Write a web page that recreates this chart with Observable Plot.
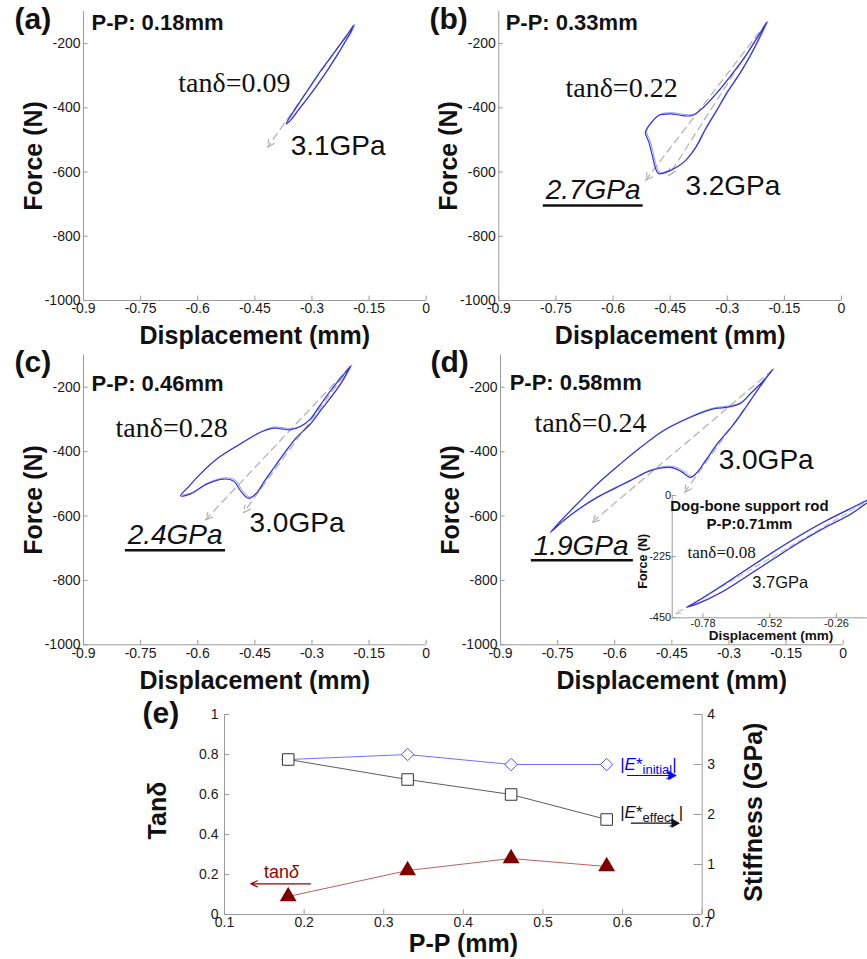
<!DOCTYPE html>
<html><head><meta charset="utf-8">
<script src="https://cdn.jsdelivr.net/npm/d3@7"></script>
<script src="https://cdn.jsdelivr.net/npm/@observablehq/plot@0.6"></script>
<style>
body{margin:0;background:#fff;}
#fig{position:relative;width:867px;height:959px;overflow:hidden;background:#fff;}
#fig svg{position:absolute;max-width:none;}
</style></head><body><div id="fig"></div>
<script>
// ---------------- data ----------------
const dispTicks = [-0.9, -0.75, -0.6, -0.45, -0.3, -0.15, 0];
const forceTicks = [-1000, -800, -600, -400, -200];
const dispDomain = [-0.9, 0];
const forceDomain = [-1000, -100];

// hysteresis loops [displacement mm, force N]
const loopA = [[-0.191,-144],[-0.203,-165],[-0.222,-196],[-0.248,-238],[-0.278,-286],[-0.304,-332],[-0.330,-378],[-0.352,-418],[-0.368,-450],
  [-0.357,-440],[-0.338,-410],[-0.313,-372],[-0.287,-330],[-0.258,-280],[-0.232,-232],[-0.210,-188],[-0.197,-162],[-0.191,-144]];
const loopB = [[-0.197,-135],[-0.226,-190],[-0.257,-247],[-0.287,-294],[-0.322,-346],[-0.362,-398],[-0.392,-424],[-0.418,-424],[-0.449,-419],[-0.480,-424],[-0.502,-450],[-0.515,-476],
  [-0.506,-507],[-0.497,-548],[-0.488,-590],[-0.480,-605],
  [-0.449,-595],[-0.414,-569],[-0.383,-523],[-0.357,-465],[-0.331,-414],[-0.300,-351],[-0.265,-289],[-0.235,-227],[-0.213,-175],[-0.197,-135]];
const loopC = [[-0.199,-135],[-0.225,-172],[-0.251,-210],[-0.280,-258],[-0.304,-298],[-0.330,-322],[-0.356,-332],[-0.380,-329],[-0.400,-327],[-0.425,-335],[-0.444,-345],[-0.488,-376],[-0.549,-422],[-0.593,-469],[-0.625,-510],[-0.645,-537],
  [-0.619,-531],[-0.575,-500],[-0.532,-485],[-0.505,-492],[-0.488,-521],[-0.466,-545],[-0.445,-528],[-0.427,-495],[-0.400,-450],[-0.374,-407],[-0.340,-355],[-0.304,-314],[-0.275,-268],[-0.243,-220],[-0.220,-180],[-0.199,-135]];
const loopD = [[-0.186,-146],[-0.209,-179],[-0.244,-220],[-0.270,-250],[-0.296,-260],[-0.320,-264],[-0.340,-267],[-0.370,-278],[-0.401,-293],[-0.471,-334],[-0.530,-385],[-0.585,-438],[-0.650,-505],[-0.716,-583],[-0.750,-625],[-0.769,-651],
  [-0.734,-614],[-0.690,-575],[-0.646,-542],[-0.600,-514],[-0.559,-490],[-0.506,-459],[-0.454,-449],[-0.425,-462],[-0.401,-480],[-0.385,-466],[-0.360,-425],[-0.331,-376],[-0.287,-314],[-0.256,-262],[-0.226,-210],[-0.205,-175],[-0.186,-146]];

// inset (dog-bone support rod)
const insetXTicks = [-0.78, -0.52, -0.26];
const insetYTicks = [-450, -225, 0];
const insetXDomain = [-0.9, -0.139];
const insetYDomain = [-450, 0];
const loopInset = [[-0.842,-411],[-0.80,-388],[-0.70,-328],[-0.60,-266],[-0.50,-204],[-0.40,-146],[-0.30,-93],[-0.20,-46],[-0.12,-10],
  [-0.20,-66],[-0.30,-116],[-0.40,-170],[-0.50,-230],[-0.60,-292],[-0.70,-352],[-0.80,-398],[-0.842,-411]];

// stiffness arrow ends (dashed secant lines start at loop tip)
const dashEndsA = [[-0.417,-523]];
const dashEndsB = [[-0.515,-626],[-0.454,-611]];
const dashEndsC = [[-0.58,-612],[-0.48,-590]];
const dashEndsD = [[-0.66,-620],[-0.417,-527]];
const dashEndsInset = [[-0.887,-435]];

// panel (e)
const pp = [0.18, 0.33, 0.46, 0.58];
const eInitial = [3.1, 3.2, 3.0, 3.0];
const eEffect = [3.1, 2.7, 2.4, 1.9];
const tanDelta = [0.09, 0.22, 0.28, 0.24];
const eXTicks = [0.1, 0.2, 0.3, 0.4, 0.5, 0.6, 0.7];
const eYTicks = [0, 0.2, 0.4, 0.6, 0.8, 1];
const eY2Ticks = [0, 1, 2, 3, 4];

// annotations (data units)
const notesA = {label:["(a)",-1.081,-156], pp:["P-P: 0.18mm",-0.879,-159], tan:["tanδ=0.09",-0.651,-351], gpa:[["3.1GPa",-0.356,-548]], gpaU:[]};
const notesB = {label:["(b)",-1.082,-156], pp:["P-P: 0.33mm",-0.882,-159], tan:["tanδ=0.22",-0.725,-367], gpa:[["3.2GPa",-0.410,-670]], gpaU:[["2.7GPa",-0.777,-685,-0.783,-0.521,-704]]};
const notesC = {label:["(c)",-1.081,-154], pp:["P-P: 0.46mm",-0.879,-213], tan:["tanδ=0.28",-0.816,-353], gpa:[["3.0GPa",-0.464,-651]], gpaU:[["2.4GPa",-0.784,-687,-0.790,-0.527,-706]]};
const notesD = {label:["(d)",-1.084,-154], pp:["P-P: 0.58mm",-0.876,-208], tan:["tanδ=0.24",-0.811,-340], gpa:[["3.0GPa",-0.327,-454]], gpaU:[["1.9GPa",-0.813,-720,-0.819,-0.551,-737]]};

// ---------------- rendering ----------------
const SANS = "'Liberation Sans', Arial, Helvetica, sans-serif";
const SERIF = "'Liberation Serif', 'Times New Roman', serif";
const AX = "#9a9a9a";
const BLUE = "#3434dc";
const fig = document.getElementById("fig");

function place(svg, left, top) {
  svg.style.left = left + "px";
  svg.style.top = top + "px";
  fig.appendChild(svg);
  return svg;
}
function txt(a) { return {t: a[0], x: a[1], y: a[2]}; }

function panel(loop, dashEnds, notes, box) {
  const x0 = dispDomain[0], y0 = forceDomain[0];
  const tip = loop[0];
  const dashes = dashEnds.map(e => ({x1: tip[0], y1: tip[1], x2: e[0], y2: e[1]}));
  const svg = Plot.plot({
    width: box.w, height: box.h,
    marginLeft: box.ml, marginRight: box.mr, marginTop: box.mt, marginBottom: box.mb,
    x: {domain: dispDomain, label: null},
    y: {domain: forceDomain, label: null},
    style: {background: "transparent", overflow: "visible", fontFamily: SANS, fontSize: "14px", color: "#1a1a1a"},
    marks: [
      Plot.ruleX([x0], {stroke: AX}),
      Plot.ruleY([y0], {stroke: AX}),
      Plot.ruleX(dispTicks, {x: d => d, y1: y0, y2: y0 + 14, stroke: AX}),
      Plot.ruleY(forceTicks, {y: d => d, x1: x0, x2: x0 + 0.012, stroke: AX}),
      Plot.axisX({ticks: dispTicks, tickSize: 0, tickPadding: 3, tickFormat: d => String(d), label: null}),
      Plot.axisY({ticks: forceTicks, tickSize: 0, tickPadding: 3, tickFormat: d => String(d), label: null}),
      Plot.arrow(dashes, {x1: "x1", y1: "y1", x2: "x2", y2: "y2", stroke: "#b4b4b4", strokeWidth: 1.3, strokeDasharray: "7,5", headLength: 9, headAngle: 50}),
      Plot.line(loop, {x: d => d[0], y: d => d[1], stroke: "#8c8cf2", strokeWidth: 0.9, curve: "catmull-rom", dx: 1.3, dy: -1.2}),
      Plot.line(loop, {x: d => d[0], y: d => d[1], stroke: BLUE, strokeWidth: 1.2, curve: "catmull-rom"}),
      Plot.text([txt(notes.label)], {x: "x", y: "y", text: "t", textAnchor: "start", lineAnchor: "bottom", fontSize: 30, fontWeight: "bold", fill: "#111"}),
      Plot.text([txt(notes.pp)], {x: "x", y: "y", text: "t", textAnchor: "start", lineAnchor: "bottom", fontSize: 22, fontWeight: "bold", fill: "#111"}),
      Plot.text([txt(notes.tan)], {x: "x", y: "y", text: "t", textAnchor: "start", lineAnchor: "bottom", fontSize: 28, fontFamily: SERIF, fill: "#111"}),
      Plot.text(notes.gpa.map(txt), {x: "x", y: "y", text: "t", textAnchor: "start", lineAnchor: "bottom", fontSize: 28, fill: "#111"}),
      Plot.text(notes.gpaU.map(txt), {x: "x", y: "y", text: "t", textAnchor: "start", lineAnchor: "bottom", fontSize: 28, fontStyle: "italic", fill: "#111"}),
      Plot.ruleY(notes.gpaU, {y: d => d[5], x1: d => d[3], x2: d => d[4], stroke: "#111", strokeWidth: 2.5}),
      Plot.text(["Force (N)"], {x: -1.03, y: -550, text: d => d, rotate: -90, textAnchor: "middle", lineAnchor: "middle", fontSize: 25, fontWeight: "bold", fill: "#111"}),
      Plot.text(["Displacement (mm)"], {x: -0.45, y: -1136, text: d => d, textAnchor: "middle", lineAnchor: "bottom", fontSize: 25, fontWeight: "bold", fill: "#111"})
    ]
  });
  return place(svg, box.left, box.top);
}

panel(loopA, dashEndsA, notesA, {left: 0, top: 0, w: 430, h: 360, ml: 83, mr: 4.3, mt: 11, mb: 60});
panel(loopB, dashEndsB, notesB, {left: 430, top: 0, w: 437, h: 360, ml: 68.3, mr: 26, mt: 11, mb: 60});
panel(loopC, dashEndsC, notesC, {left: 0, top: 330, w: 430, h: 375, ml: 83, mr: 4.3, mt: 24.6, mb: 60.7});
panel(loopD, dashEndsD, notesD, {left: 430, top: 330, w: 437, h: 375, ml: 70, mr: 24.3, mt: 24.6, mb: 60.7});

// inset
{
  const x0 = insetXDomain[0], y0 = insetYDomain[0];
  const tip = loopInset[8];
  const dashes = dashEndsInset.map(e => ({x1: tip[0], y1: tip[1], x2: e[0], y2: e[1]}));
  const svg = Plot.plot({
    width: 267, height: 180, marginLeft: 71.7, marginRight: 0, marginTop: 25, marginBottom: 32.7,
    x: {domain: insetXDomain, label: null},
    y: {domain: insetYDomain, label: null},
    style: {background: "transparent", overflow: "visible", fontFamily: SANS, fontSize: "11px", color: "#1a1a1a"},
    marks: [
      Plot.ruleX([x0], {stroke: AX}),
      Plot.ruleY([y0], {stroke: AX}),
      Plot.ruleX(insetXTicks, {x: d => d, y1: y0, y2: y0 + 15, stroke: AX}),
      Plot.ruleY(insetYTicks, {y: d => d, x1: x0, x2: x0 + 0.016, stroke: AX}),
      Plot.axisX({ticks: insetXTicks, tickSize: 0, tickPadding: 1, tickFormat: d => String(d), label: null}),
      Plot.axisY({ticks: insetYTicks, tickSize: 0, tickPadding: 1, tickFormat: d => String(d), label: null}),
      Plot.arrow(dashes, {x1: "x1", y1: "y1", x2: "x2", y2: "y2", stroke: "#bdbdbd", strokeWidth: 1.1, strokeDasharray: "6,4", headLength: 7, headAngle: 50, clip: true}),
      Plot.line(loopInset, {x: d => d[0], y: d => d[1], stroke: "#8c8cf2", strokeWidth: 0.8, curve: "catmull-rom", dx: 1, dy: -1, clip: true}),
      Plot.line(loopInset, {x: d => d[0], y: d => d[1], stroke: BLUE, strokeWidth: 1.2, curve: "catmull-rom", clip: true}),
      Plot.text(["Dog-bone support rod", "P-P:0.71mm"], {x: -0.599, y: (d, i) => [-58, -122][i], text: d => d, textAnchor: "middle", lineAnchor: "bottom", fontSize: 15, fontWeight: "bold", fill: "#111"}),
      Plot.text(["tanδ=0.08"], {x: -0.840, y: -229, text: d => d, textAnchor: "start", lineAnchor: "bottom", fontSize: 17, fontFamily: SERIF, fill: "#111"}),
      Plot.text(["3.7GPa"], {x: -0.588, y: -339, text: d => d, textAnchor: "start", lineAnchor: "bottom", fontSize: 16.5, fill: "#111"}),
      Plot.text(["Displacement (mm)"], {x: -0.515, y: -530, text: d => d, textAnchor: "middle", lineAnchor: "bottom", fontSize: 13.5, fontWeight: "bold", fill: "#111"}),
      Plot.text(["Force (N)"], {x: -1.014, y: -242, text: d => d, rotate: -90, textAnchor: "middle", lineAnchor: "middle", fontSize: 12.5, fontWeight: "bold", fill: "#111"})
    ]
  });
  place(svg, 600, 470);
}

// panel (e)
{
  const rows = pp.map((p, i) => ({p, ei: eInitial[i], ee: eEffect[i], td: tanDelta[i]}));
  const svg = Plot.plot({
    width: 660, height: 269, marginLeft: 94, marginRight: 88.3, marginTop: 24, marginBottom: 45,
    x: {domain: [0.1, 0.7], label: null},
    y: {domain: [0, 1], label: null},
    style: {background: "transparent", overflow: "visible", fontFamily: SANS, fontSize: "14px", color: "#1a1a1a"},
    marks: [
      Plot.ruleX([0.1, 0.7], {stroke: AX}),
      Plot.ruleY([0], {stroke: AX}),
      Plot.ruleX(eXTicks, {x: d => d, y1: 0, y2: 0.025, stroke: AX}),
      Plot.ruleY(eYTicks, {y: d => d, x1: 0.1, x2: 0.1065, stroke: AX}),
      Plot.ruleY(eY2Ticks, {y: d => d / 4, x1: 0.69, x2: 0.7, stroke: AX}),
      Plot.axisX({ticks: eXTicks, tickSize: 0, tickPadding: 3, tickFormat: d => String(d), label: null}),
      Plot.axisY({ticks: eYTicks, tickSize: 0, tickPadding: 6, tickFormat: d => String(d), label: null}),
      Plot.text(eY2Ticks, {x: 0.7, y: d => d / 4, text: d => String(d), textAnchor: "start", dx: 5, fontSize: 14}),
      Plot.line(rows, {x: "p", y: d => d.ei / 4, stroke: "#6f6fff", strokeWidth: 1}),
      Plot.line(rows, {x: "p", y: d => d.ee / 4, stroke: "#4a4a4a", strokeWidth: 0.9}),
      Plot.line(rows, {x: "p", y: "td", stroke: "#b86262", strokeWidth: 1}),
      Plot.dot(rows, {x: "p", y: d => d.ei / 4, symbol: "diamond2", r: 5.6, stroke: "#4d4dff", fill: "white", strokeWidth: 1}),
      Plot.dot(rows, {x: "p", y: d => d.ee / 4, symbol: "square", r: 6.5, stroke: "#333", fill: "white", strokeWidth: 1}),
      Plot.dot(rows, {x: "p", y: "td", symbol: "triangle", r: 5.3, fill: "#800000", stroke: "#800000"}),
      // legends
      Plot.text(["|E*initial|"], {x: 0.597, y: 0.75, text: d => d, textAnchor: "start", lineAnchor: "middle", fontSize: 17, fill: "#0000ff"}),
      Plot.text(["|E*effect |"], {x: 0.597, y: 0.5115, text: d => d, textAnchor: "start", lineAnchor: "middle", fontSize: 17, fill: "#111"}),
      Plot.arrow([[0.606, 0.695, 0.666], [0.611, 0.4565, 0.670]], {x1: d => d[0], y1: d => d[1], x2: d => d[2], y2: d => d[1], stroke: (d, i) => ["#0000ff", "#111"][i], strokeWidth: 1.2, headLength: 11, headAngle: 40}),
      Plot.dot([[0.666, 0.695], [0.670, 0.4565]], {x: d => d[0], y: d => d[1], symbol: "triangle", rotate: 90, r: 3.6, dx: -4, fill: (d, i) => ["#0000ff", "#111"][i]}),
      Plot.text(["tanδ"], {x: 0.1496, y: 0.2115, text: d => d, textAnchor: "start", lineAnchor: "middle", fontSize: 18, fill: "#990000"}),
      Plot.arrow([[0.208, 0.1535, 0.133]], {x1: d => d[0], y1: d => d[1], x2: d => d[2], y2: d => d[1], stroke: "#990000", strokeWidth: 1.2, headLength: 9, headAngle: 50}),
      // titles
      Plot.text(["(e)"], {x: -0.003, y: 0.96, text: d => d, textAnchor: "start", lineAnchor: "bottom", fontSize: 30, fontWeight: "bold", fill: "#111"}),
      Plot.text(["Tanδ"], {x: 0.0165, y: 0.52, text: d => d, rotate: -90, textAnchor: "middle", lineAnchor: "middle", fontSize: 25, fontWeight: "bold", fill: "#111"}),
      Plot.text(["Stiffness (GPa)"], {x: 0.765, y: 0.5115, text: d => d, rotate: -90, textAnchor: "middle", lineAnchor: "middle", fontSize: 25, fontWeight: "bold", fill: "#111"}),
      Plot.text(["P-P (mm)"], {x: 0.4, y: -0.186, text: d => d, textAnchor: "middle", lineAnchor: "bottom", fontSize: 25, fontWeight: "bold", fill: "#111"})
    ]
  });
  // rich text: subscripts and italic symbols
  d3.select(svg).selectAll("text").each(function () {
    const t = this.textContent;
    const s = d3.select(this);
    if (t === "|E*initial|" || t === "|E*effect |") {
      const sub = t === "|E*initial|" ? "initial" : "effect";
      const tail = t === "|E*initial|" ? "|" : " |";
      s.text(null);
      s.append("tspan").text("|");
      s.append("tspan").attr("font-style", "italic").text("E");
      s.append("tspan").text("*");
      s.append("tspan").attr("font-size", "13px").attr("dy", "4").text(sub);
      s.append("tspan").attr("dy", "-4").text(tail);
    } else if (t === "tanδ") {
      s.text(null);
      s.append("tspan").text("tan");
      s.append("tspan").attr("font-style", "italic").text("δ");
    }
  });
  place(svg, 130, 690);
}
</script></body></html>
